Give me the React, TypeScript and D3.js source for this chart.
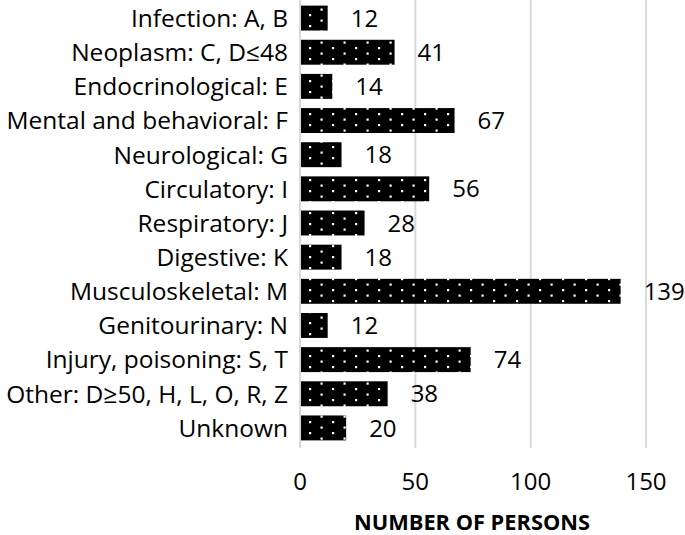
import React from "react";
import * as d3 from "d3";

const categories = [
  "Infection: A, B",
  "Neoplasm: C, D≤48",
  "Endocrinological: E",
  "Mental and behavioral: F",
  "Neurological: G",
  "Circulatory: I",
  "Respiratory: J",
  "Digestive: K",
  "Musculoskeletal: M",
  "Genitourinary: N",
  "Injury, poisoning: S, T",
  "Other: D≥50, H, L, O, R, Z",
  "Unknown",
];
const values = [12, 41, 14, 67, 18, 56, 28, 18, 139, 12, 74, 38, 20];
const xTicks = [0, 50, 100, 150];
const axisTitle = "NUMBER OF PERSONS";

const W = 685;
const H = 535;
const FONT = "'Open Sans', sans-serif";

export default function App() {
  const x = d3.scaleLinear().domain([0, 150]).range([300, 646]);
  const y = d3.scaleBand<string>().domain(categories).range([1, 445]).paddingInner(0.27).paddingOuter(0.135);
  const top = 0;
  const bottom = 448;
  return (
    <div style={{ position: "absolute", left: 0, top: 0 }}>
      <svg width={W} height={H} style={{ display: "block", background: "#fff" }}>
        <defs>
          <pattern id="dots" patternUnits="userSpaceOnUse" width={23} height={11} x={301} y={0}>
            <rect width={23} height={11} fill="#000" />
            <rect x={8} y={3} width={2.2} height={2.2} fill="#fff" />
            <rect x={19.5} y={8.5} width={2.2} height={2.2} fill="#fff" />
          </pattern>
        </defs>
        {xTicks.filter((t) => t > 0).map((t) => (
          <line key={t} x1={x(t)} x2={x(t)} y1={top} y2={bottom} stroke="#d9d9d9" strokeWidth={2} />
        ))}
        <line x1={x(0)} x2={x(0)} y1={top} y2={bottom} stroke="#d9d9d9" strokeWidth={2} />
        {categories.map((c, i) => {
          const y0 = y(c)!;
          const bw = y.bandwidth();
          const cy = y0 + bw / 2;
          return (
            <g key={c}>
              <rect x={x(0) + 1} y={y0} width={x(values[i]) - x(0) - 1} height={bw} fill="url(#dots)" />
              <text x={288} y={cy} dy="0.36em" textAnchor="end" fontFamily={FONT} fontSize={24.5} fill="#000">
                {c}
              </text>
              <text x={x(values[i]) + 23} y={cy} dy="0.36em" textAnchor="start" fontFamily={FONT} fontSize={24} fill="#000">
                {values[i]}
              </text>
            </g>
          );
        })}
        {xTicks.map((t) => (
          <text key={t} x={x(t)} y={490} textAnchor="middle" fontFamily={FONT} fontSize={24} fill="#000">
            {t}
          </text>
        ))}
        <text x={472} y={530} textAnchor="middle" fontFamily={FONT} fontSize={21.8} fontWeight="bold" fill="#000">
          {axisTitle}
        </text>
      </svg>
    </div>
  );
}
